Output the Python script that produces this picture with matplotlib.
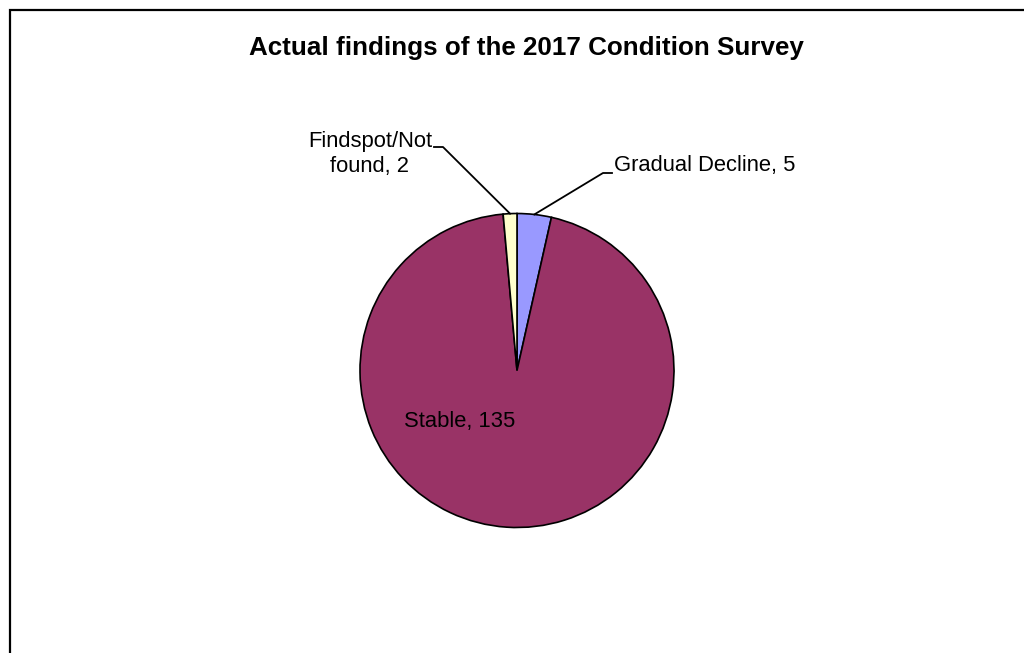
import matplotlib
matplotlib.use("Agg")
import numpy as np
import matplotlib.pyplot as plt
from matplotlib.patches import Rectangle

plt.rcParams["font.family"] = ["Liberation Sans", "DejaVu Sans"]

# Survey outcome counts, in drawing order (clockwise from 12 o'clock)
categories = ["Gradual Decline", "Stable", "Findspot/Not\nfound"]
counts = [5, 135, 2]
colors = ["#9999FF", "#993366", "#FFFFCC"]

W, H = 1024, 653
fig = plt.figure(figsize=(W / 100, H / 100), dpi=100)
ax = fig.add_axes([0, 0, 1, 1])

cx, cy, r = 517, H - 370.5, 157
wedges, _ = ax.pie(counts, colors=colors, startangle=90, counterclock=False,
                   center=(cx, cy), radius=r,
                   wedgeprops=dict(edgecolor="black", linewidth=1.2))
ax.set_xlim(0, W)
ax.set_ylim(0, H)
ax.set_aspect("equal")
ax.axis("off")

# chart area border (runs off the right and bottom edges)
ax.add_patch(Rectangle((10, -10), W + 20, H - 9.5 + 10, fill=False,
                       edgecolor="black", linewidth=1.6, clip_on=False))

ax.text(526, H - 48, "Actual findings of the 2017 Condition Survey",
        ha="center", va="center", fontsize=18.7, fontweight="bold")


def edge_point(w):
    mid = np.deg2rad((w.theta1 + w.theta2) / 2)
    return cx + r * np.cos(mid), cy + r * np.sin(mid)


# Gradual Decline label with leader line
ex, ey = edge_point(wedges[0])
ax.plot([ex, 603, 612], [ey, H - 173, H - 173], color="black", lw=1.3)
ax.text(614, H - 166, f"{categories[0]}, {counts[0]}", ha="left",
        va="center", fontsize=15.8)

# Findspot label with leader line
ex, ey = edge_point(wedges[2])
ax.plot([ex, 443, 434], [ey, H - 147, H - 147], color="black", lw=1.3)
ax.text(432, H - 154, f"{categories[2]}, {counts[2]}", ha="right",
        va="center", fontsize=15.8, multialignment="center", linespacing=1.2)

# Stable label inside its slice
ax.text(460, H - 421, f"{categories[1]}, {counts[1]}", ha="center",
        va="center", fontsize=15.8)

fig.savefig("out.png", dpi=100, facecolor="white")
